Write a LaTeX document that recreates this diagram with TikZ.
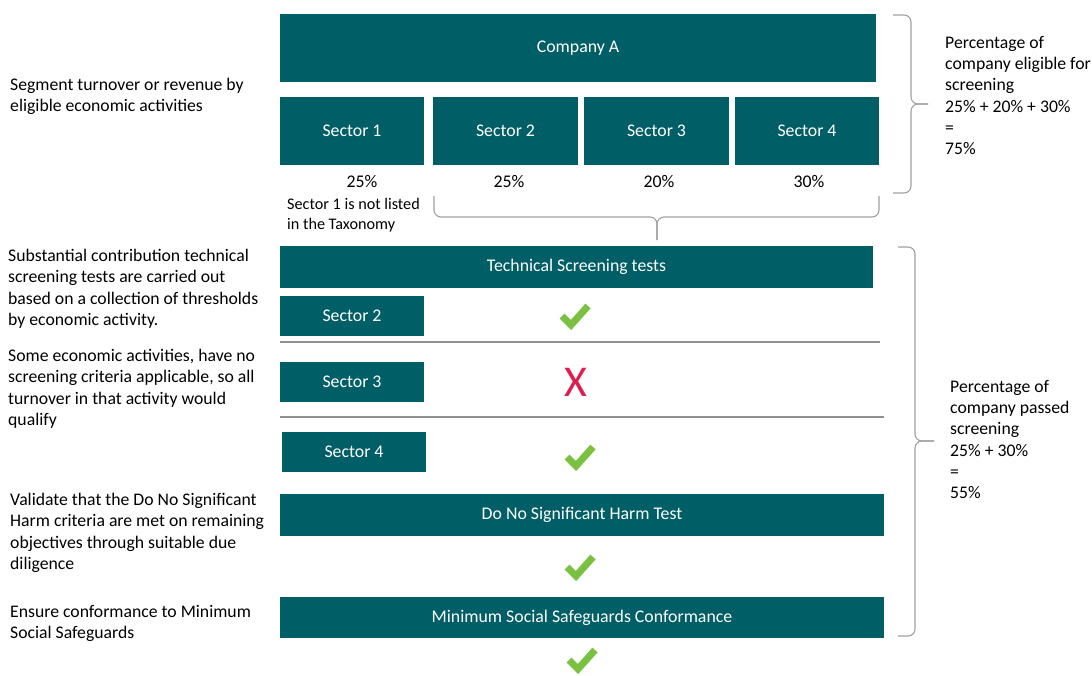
\documentclass[tikz,border=0pt]{standalone}
\usepackage{fontspec}
\setmainfont{Carlito}
\definecolor{teal1}{RGB}{0,94,102}
\definecolor{chkgreen}{RGB}{122,193,66}
\definecolor{xred}{RGB}{222,30,80}
\definecolor{bracegray}{RGB}{160,160,160}
\begin{document}
\begin{tikzpicture}[x=1pt,y=-1pt,
  box/.style={fill=teal1,draw=none,text=white,font=\fontsize{17.8}{21}\selectfont,inner sep=0},
  txt/.style={anchor=north west,align=left,inner sep=0,font=\fontsize{17.7}{21.3}\selectfont},
  pct/.style={inner sep=0,font=\fontsize{17.8}{21}\selectfont},
  brc/.style={draw=bracegray,line width=1.1,rounded corners=7},
  sep/.style={draw=bracegray!90!black,line width=1.5},
  chk/.pic={\draw[chkgreen,line width=7,line join=miter] (-13,-1) -- (-4,8) -- (13,-11);}
]
\useasboundingbox (0,0) rectangle (1092,675);
% top boxes
\node[box,minimum width=596,minimum height=68] (comp) at (578,48) {Company A};
\node[box,minimum width=144,minimum height=68] (s1) at (352,131) {Sector 1};
\node[box,minimum width=145,minimum height=68] (s2) at (505.5,131) {Sector 2};
\node[box,minimum width=145,minimum height=68] (s3) at (656.5,131) {Sector 3};
\node[box,minimum width=144,minimum height=68] (s4) at (807,131) {Sector 4};
\node[pct] (p1) at (362,181) {25\%};
\node[pct] (p2) at (509,181) {25\%};
\node[pct] (p3) at (659,181) {20\%};
\node[pct] (p4) at (809,181) {30\%};
\node[txt,font=\fontsize{16.2}{20}\selectfont] (note) at (287,198) {Sector 1 is not listed\\in the Taxonomy};
% bottom brace under sectors
\coordinate (bl) at (434,196);
\coordinate (br) at (879,196);
\coordinate (bt) at (657,240);
\draw[brc] (bl) -- (434,217) -- (657,217) -- (bt);
\draw[brc] (br) -- (879,217) -- (657,217) -- (bt);
% right brace 1
\coordinate (r1a) at (893,15);
\coordinate (r1b) at (893,193);
\coordinate (r1t) at (928,104);
\draw[brc] (r1a) -- (911,15) -- (911,104) -- (r1t);
\draw[brc] (r1b) -- (911,193) -- (911,104) -- (r1t);
\node[txt] (rt1) at (945,36) {Percentage of\\company eligible for\\screening\\25\% + 20\% + 30\%\\=\\75\%};
% screening section
\node[box,minimum width=593,minimum height=42] (tst) at (576.5,267) {Technical Screening tests};
\node[box,minimum width=144,minimum height=40] (t2) at (352,316) {Sector 2};
\node[box,minimum width=144,minimum height=40] (t3) at (352,382) {Sector 3};
\node[box,minimum width=144,minimum height=40] (t4) at (354,452) {Sector 4};
\coordinate (l1a) at (280,342); \coordinate (l1b) at (880,342);
\coordinate (l2a) at (280,417); \coordinate (l2b) at (884,417);
\draw[sep] (l1a) -- (l1b);
\draw[sep] (l2a) -- (l2b);
\pic (c1) at (575,317) {chk};
\node[text=xred,inner sep=0,font=\fontsize{44}{44}\selectfont] (x3) at (576,382) {X};
\pic (c2) at (580,458) {chk};
\node[box,minimum width=604,minimum height=42] (dnsh) at (582,515) {Do No Significant Harm Test};
\pic (c3) at (580,568) {chk};
\node[box,minimum width=604,minimum height=41] (mss) at (582,617.5) {Minimum Social Safeguards Conformance};
\pic (c4) at (582,661) {chk};
% right brace 2
\coordinate (r2a) at (898,247);
\coordinate (r2b) at (898,636);
\coordinate (r2t) at (934,441);
\draw[brc] (r2a) -- (915,247) -- (915,441) -- (r2t);
\draw[brc] (r2b) -- (915,636) -- (915,441) -- (r2t);
\node[txt] (rt2) at (950,380) {Percentage of\\company passed\\screening\\25\% + 30\%\\=\\55\%};
% left texts
\node[txt] (lt1) at (10,78) {Segment turnover or revenue by\\eligible economic activities};
\node[txt] (lt2) at (8,249) {Substantial contribution technical\\screening tests are carried out\\based on a collection of thresholds\\by economic activity.};
\node[txt] (lt3) at (8,349) {Some economic activities, have no\\screening criteria applicable, so all\\turnover in that activity would\\qualify};
\node[txt] (lt4) at (10,493) {Validate that the Do No Significant\\Harm criteria are met on remaining\\objectives through suitable due\\diligence};
\node[txt] (lt5) at (10,605) {Ensure conformance to Minimum\\Social Safeguards};
\end{tikzpicture}
\end{document}
